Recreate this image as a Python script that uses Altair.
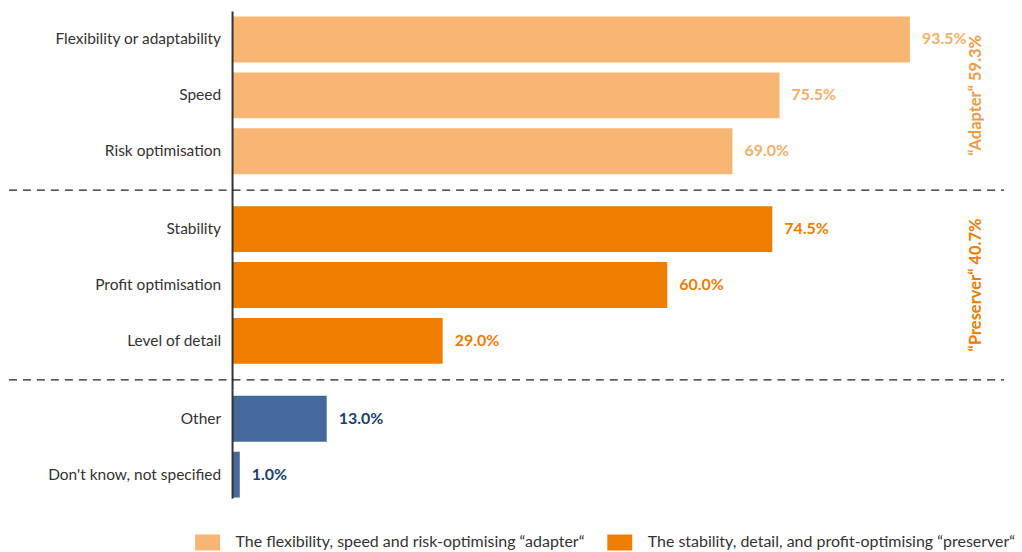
import altair as alt
import pandas as pd

categories = ["Flexibility or adaptability", "Speed", "Risk optimisation",
              "Stability", "Profit optimisation", "Level of detail",
              "Other", "Don't know, not specified"]
values = [93.5, 75.5, 69.0, 74.5, 60.0, 29.0, 13.0, 1.0]
groups = ["adapter", "adapter", "adapter",
          "preserver", "preserver", "preserver",
          "other", "other"]
group_order = ["adapter", "preserver", "other"]
legend_names = ["The flexibility, speed and risk-optimising \u201cadapter\u201c",
                "The stability, detail, and profit-optimising \u201cpreserver\u201c",
                "Other"]
group_labels = ["\u201cAdapter\u201c 59.3%", "\u201cPreserver\u201c 40.7%"]

bar_colors = ["#F7B674", "#EF7D00", "#46699C"]
text_colors = ["#F5AF66", "#EF7D00", "#17426F"]
group_label_colors = ["#F19B45", "#EF7D00"]

name_map = dict(zip(group_order, legend_names))
df = pd.DataFrame({
    "category": categories,
    "value": values,
    "group": groups,
})
df["legend"] = df["group"].map(name_map)
df["label"] = df["value"].map(lambda v: f"{v:.1f}%")

W = 784
FONT = "Lato"


def panel(g, n, label_idx=None, sep=True):
    h = 56 * n
    base = alt.Chart(df).transform_filter(alt.datum.group == g)
    y = alt.Y("category:N", sort=categories, title=None,
              scale=alt.Scale(paddingInner=0.18, paddingOuter=0.09),
              axis=alt.Axis(domain=False, ticks=False, labelPadding=12,
                            labelFontSize=15.5, labelColor="#333333",
                            labelFont=FONT, labelLimit=300))
    x = alt.X("value:Q", scale=alt.Scale(domain=[0, 108]), axis=None)
    bars = base.mark_bar().encode(
        x=x, y=y,
        fill=alt.Fill("legend:N",
                      scale=alt.Scale(domain=legend_names, range=bar_colors),
                      legend=alt.Legend(values=legend_names[:2], title=None)))
    texts = base.mark_text(align="left", baseline="middle", dx=12,
                           fontWeight="bold", fontSize=16, font=FONT).encode(
        x=x, y=y, text="label:N",
        color=alt.Color("group:N",
                        scale=alt.Scale(domain=group_order, range=text_colors),
                        legend=None))
    one = pd.DataFrame({"a": [0]})
    axis_line = alt.Chart(one).mark_rule(color="#333333", strokeWidth=2).encode(
        x=alt.value(0), y=alt.value(0), y2=alt.value(h + 22 if sep else h - 4))
    layers = [bars, texts, axis_line]
    if sep:
        layers.append(alt.Chart(one).mark_rule(
            color="#222222", strokeWidth=1.3, strokeDash=[8, 6]).encode(
            x=alt.value(-224), x2=alt.value(773), y=alt.value(h + 11)))
    if label_idx is not None:
        lab = pd.DataFrame({"t": [group_labels[label_idx]]})
        layers.append(alt.Chart(lab).mark_text(
            angle=270, align="center", baseline="middle", fontWeight="bold",
            fontSize=16.5, font=FONT,
            color=group_label_colors[label_idx]).encode(
            text="t:N", x=alt.value(745), y=alt.value(h / 2)))
    return alt.layer(*layers).properties(width=W, height=h)


chart = alt.vconcat(
    panel("adapter", 3, 0, True),
    panel("preserver", 3, 1, True),
    panel("other", 2, None, False),
    spacing=22, bounds="flush",
).properties(
    padding={"left": 8, "top": 10, "right": 6, "bottom": 0}
).configure_view(stroke=None).configure_legend(
    orient="none", legendX=-33, legendY=524, direction="horizontal",
    symbolType="M-1.56,-1H1.56V1H-1.56Z", symbolSize=256, symbolStrokeWidth=0,
    labelOffset=20, labelFontSize=16, labelFont=FONT, labelColor="#333333",
    labelLimit=600, columnPadding=22, padding=0,
)

chart.save("out.html", embed_options={"renderer": "svg", "actions": False})
